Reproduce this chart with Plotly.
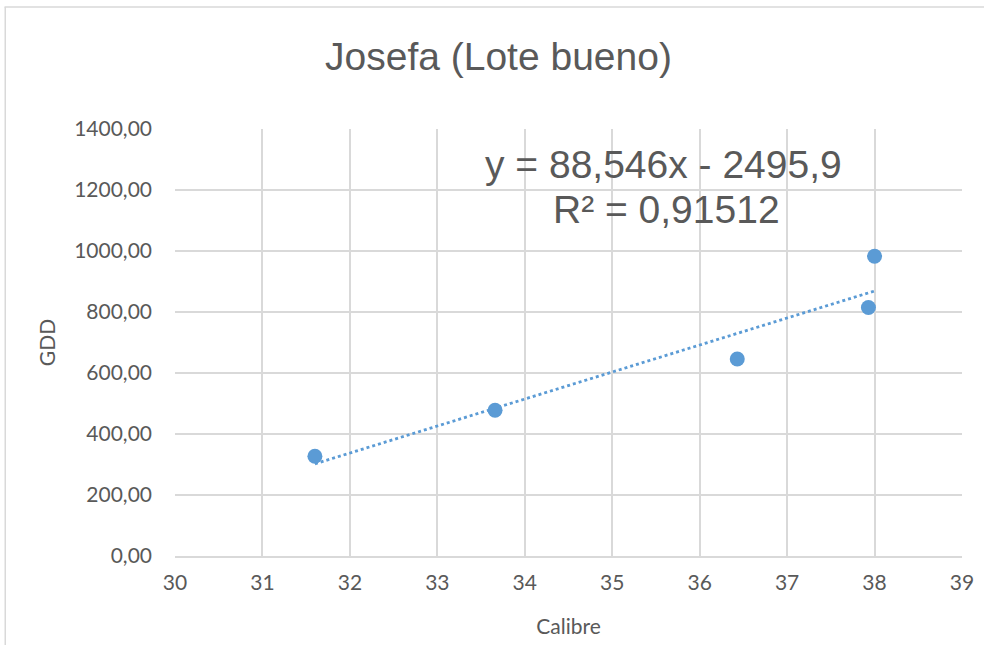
import numpy as np
import plotly.graph_objects as go

calibre = [31.6, 33.66, 36.43, 37.93, 38.0]
gdd = [327, 478, 646, 815, 983]
slope = 88.546
intercept = -2495.9
r2 = 0.91512
x_ticks = [30, 31, 32, 33, 34, 35, 36, 37, 38, 39]
y_ticks = [0, 200, 400, 600, 800, 1000, 1200, 1400]
y_tick_labels = ["0,00", "200,00", "400,00", "600,00", "800,00", "1000,00", "1200,00", "1400,00"]

blue = "#5B9BD5"
grid = "#D9D9D9"
txt = "#595959"
tick_font = dict(family="Lato, Open Sans, sans-serif", size=21, color=txt)
big_font = dict(family="Liberation Sans, Arial", size=39, color=txt)

trend_x = [min(calibre), max(calibre)]
trend_y = [slope * v + intercept for v in trend_x]

L, R, T, B = 175, 962, 129, 556
def px(xp): return (xp - L) / (R - L)
def py(yp): return (B - yp) / (B - T)

fig = go.Figure()
fig.add_trace(go.Scatter(x=trend_x, y=trend_y, mode="lines",
                         line=dict(color=blue, width=2.8, dash="dot"),
                         hoverinfo="skip", showlegend=False))
fig.add_trace(go.Scatter(x=calibre, y=gdd, mode="markers",
                         marker=dict(color=blue, size=15),
                         showlegend=False))

fig.update_layout(
    width=985, height=646,
    margin=dict(l=L, r=985 - R, t=T, b=646 - B),
    paper_bgcolor="white", plot_bgcolor="white",
    showlegend=False,
    xaxis=dict(range=[30, 39], tickvals=x_ticks, ticktext=[str(t) for t in x_ticks],
               showgrid=True, gridcolor=grid, gridwidth=1.5, zeroline=False,
               showline=True, linecolor=grid, linewidth=1.5,
               ticks="", ticklabelstandoff=7, tickfont=tick_font,
               title=dict(text="Calibre", font=tick_font, standoff=26)),
    yaxis=dict(range=[0, 1400], tickvals=y_ticks, ticktext=y_tick_labels,
               showgrid=True, gridcolor=grid, gridwidth=1.5, zeroline=False,
               showline=False, ticks="", ticklabelstandoff=22, tickfont=tick_font,
               title=dict(text="GDD", font=tick_font, standoff=12)),
    annotations=[
        dict(text="Josefa (Lote bueno)", x=px(498), y=py(56), xref="paper", yref="paper",
             xanchor="center", yanchor="middle", showarrow=False, font=big_font),
        dict(text="y = 88,546x - 2495,9", x=px(663), y=py(164), xref="paper", yref="paper",
             xanchor="center", yanchor="middle", showarrow=False, font=big_font),
        dict(text="R² = 0,91512", x=px(666), y=py(209), xref="paper", yref="paper",
             xanchor="center", yanchor="middle", showarrow=False, font=big_font),
    ],
)

fig.add_shape(type="rect", xref="paper", yref="paper",
              x0=px(4.5), x1=px(984), y0=py(7.75), y1=py(6.25),
              line=dict(width=0), fillcolor=grid, layer="below")
fig.add_shape(type="rect", xref="paper", yref="paper",
              x0=px(4.5), x1=px(6), y0=py(645), y1=py(7),
              line=dict(width=0), fillcolor=grid, layer="below")

fig.write_html("out.html")
